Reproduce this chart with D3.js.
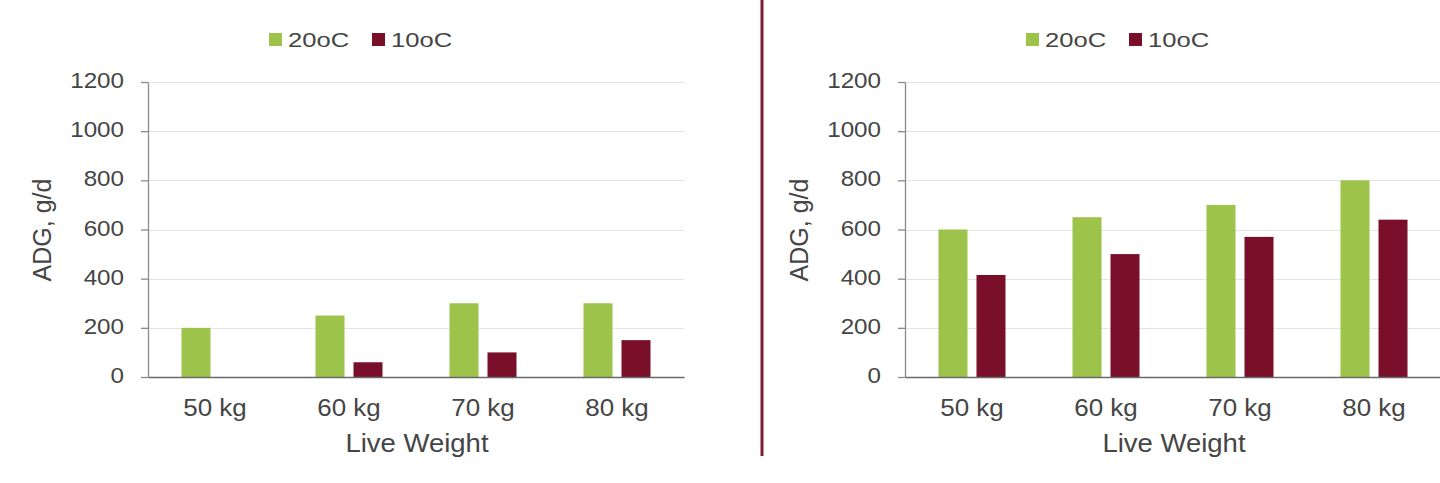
<!DOCTYPE html>
<html><head><meta charset="utf-8">
<script src="https://cdn.jsdelivr.net/npm/d3@7"></script>
<style>html,body{margin:0;padding:0;background:#fff;overflow:hidden;} svg{display:block;font-family:"Liberation Sans",Arial,sans-serif;}</style>
</head><body><svg id="c" width="1440" height="483"></svg>
<script>
// ---- data ----
const categories = ["50 kg", "60 kg", "70 kg", "80 kg"];
const seriesNames = ["20oC", "10oC"];
const leftWarm = [200, 250, 300, 300];
const leftCold = [0, 60, 100, 150];
const rightWarm = [600, 650, 700, 800];
const rightCold = [415, 500, 570, 640];
const yTicks = [0, 200, 400, 600, 800, 1000, 1200];
const xTitle = "Live Weight";
const yTitle = "ADG, g/d";

// ---- styles / layout ----
const colors = ["#9dc34b", "#7a0f2a"];
const textColor = "#454545";
const panels = [
  { offset: 0, values: [leftWarm, leftCold] },
  { offset: 757, values: [rightWarm, rightCold] }
];
const plotX0 = 148, plotX1 = 684, plotY0 = 377, plotY1 = 82;

const svg = d3.select("#c");
svg.append("rect").attr("width", 1440).attr("height", 483).attr("fill", "#fff");

function stretch(sel, k) {
  sel.attr("transform", function () {
    const x = +(this.getAttribute("x") || 0);
    return `translate(${x},0) scale(${k},1) translate(${-x},0)`;
  });
}

const y = d3.scaleLinear().domain([0, 1200]).range([plotY0, plotY1]);
const xb = d3.scaleBand().domain(categories).range([plotX0, plotX1])
  .paddingInner(0.5).paddingOuter(0.25);
const xs = d3.scaleBand().domain(seriesNames).range([0, xb.bandwidth()])
  .paddingInner(9 / 38).paddingOuter(0);

panels.forEach(p => {
  const g = svg.append("g").attr("transform", `translate(${p.offset},0)`);

  // gridlines
  g.append("g").selectAll("line").data(yTicks.filter(t => t > 0)).join("line")
    .attr("x1", plotX0).attr("x2", plotX1)
    .attr("y1", d => Math.round(y(d)) + 0.5).attr("y2", d => Math.round(y(d)) + 0.5)
    .attr("stroke", "#e4e4e4").attr("stroke-width", 1.2);

  // bars
  const rows = categories.map((c, i) => ({ c, vals: seriesNames.map((s, j) => ({ s, j, v: p.values[j][i] })) }));
  g.append("g").selectAll("g").data(rows).join("g")
    .attr("transform", d => `translate(${xb(d.c)},0)`)
    .selectAll("rect").data(d => d.vals).join("rect")
    .attr("x", d => xs(d.s)).attr("width", xs.bandwidth())
    .attr("y", d => y(d.v)).attr("height", d => y(0) - y(d.v))
    .attr("fill", d => colors[d.j]);

  // y axis
  const ya = g.append("g").attr("transform", `translate(${plotX0},0)`)
    .call(d3.axisLeft(y).tickValues(yTicks).tickFormat(d3.format("d"))
      .tickSizeInner(7).tickSizeOuter(0).tickPadding(17));
  ya.select(".domain").attr("stroke", "#8a8a8a").attr("stroke-width", 1.3);
  ya.selectAll(".tick line").attr("stroke", "#8a8a8a").attr("stroke-width", 1.3);
  ya.selectAll(".tick text").attr("font-size", 22).attr("fill", textColor)
    .attr("font-family", "Liberation Sans, Arial, sans-serif").attr("dy", "0.25em")
    .call(stretch, 1.1);

  // x axis
  const xa = g.append("g").attr("transform", `translate(0,${plotY0})`)
    .call(d3.axisBottom(xb).tickSize(0).tickPadding(23));
  xa.select(".domain").attr("stroke", "#6a6a6a").attr("stroke-width", 1.6);
  xa.selectAll(".tick text").attr("font-size", 23).attr("fill", textColor)
    .attr("font-family", "Liberation Sans, Arial, sans-serif")
    .call(stretch, 1.13);

  // axis titles
  g.append("text").attr("x", 417).attr("y", 452).attr("text-anchor", "middle")
    .attr("font-size", 25).attr("fill", textColor).text(xTitle).call(stretch, 1.1);
  g.append("text").attr("transform", "translate(51,230) rotate(-90)")
    .attr("text-anchor", "middle").attr("font-size", 25).attr("fill", textColor).text(yTitle);

  // legend
  const legX = [269, 372];
  const leg = g.append("g").selectAll("g").data(seriesNames).join("g");
  leg.append("rect").attr("x", (d, i) => legX[i]).attr("y", 33)
    .attr("width", 13).attr("height", 13).attr("fill", (d, i) => colors[i]);
  leg.append("text").attr("x", (d, i) => legX[i] + 19).attr("y", 47)
    .attr("font-size", 20).attr("fill", textColor).text(d => d).call(stretch, 1.28);
});

// divider between the two panels
svg.append("line").attr("x1", 762).attr("x2", 762).attr("y1", 0).attr("y2", 456)
  .attr("stroke", "#7d1d33").attr("stroke-width", 3);
</script></body></html>
